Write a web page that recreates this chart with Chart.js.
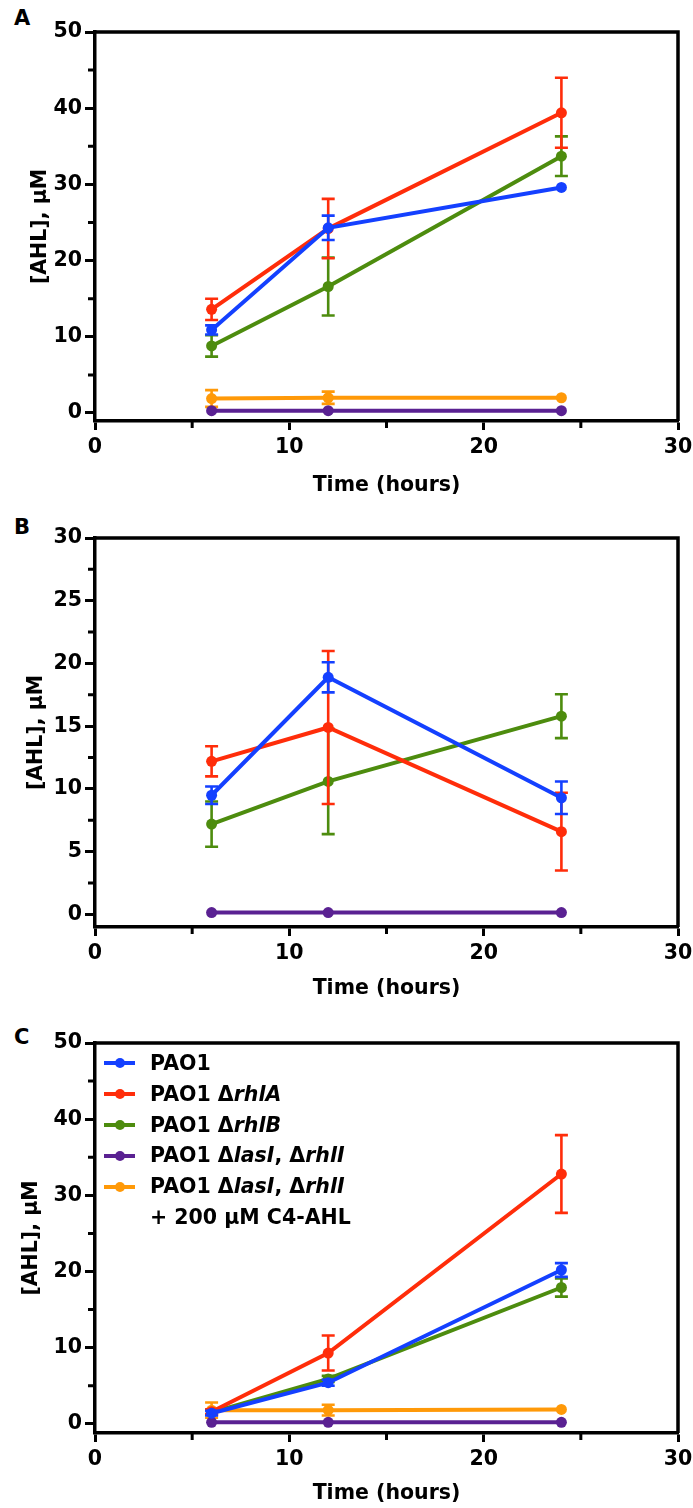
<!DOCTYPE html>
<html>
<head>
<meta charset="utf-8">
<script src="https://cdn.jsdelivr.net/npm/chart.js@4.4.0/dist/chart.umd.min.js"></script>
<style>
  html, body { margin: 0; padding: 0; background: #fff; overflow: hidden; }
  #page { position: relative; width: 693px; height: 1508px; font-family: "DejaVu Sans", sans-serif; font-weight: bold; color: #000; }
  .panel { position: absolute; left: 0; }
  .letter { position: absolute; left: 14px; font-size: 21px; line-height: 22px; }
  #legend { position: absolute; left: 104px; top: 1048px; font-size: 20.5px; line-height: 31px; }
  #legend .row { display: flex; align-items: center; height: 30.8px; white-space: nowrap; }
  #legend .swatch { position: relative; width: 31px; height: 4px; margin-right: 15px; flex: none; }
  #legend .swatch span { position: absolute; left: 10.5px; top: -3px; width: 10px; height: 10px; border-radius: 50%; }
  #legend .indent { padding-left: 46px; }
  #legend i { font-style: italic; }
</style>
</head>
<body>
<div id="page">
  <div class="letter" style="top:7px">A</div>
  <div class="letter" style="top:516px">B</div>
  <div class="letter" style="top:1026px">C</div>
  <canvas id="chartA" class="panel" style="top:0px" width="693" height="500"></canvas>
  <canvas id="chartB" class="panel" style="top:500px" width="693" height="505"></canvas>
  <canvas id="chartC" class="panel" style="top:1000px" width="693" height="508"></canvas>
  <div id="legend"></div>
</div>
<script>
// sampling times (hours)
const hours = [6, 12, 24];

const seriesColors = ['#1440ff', '#ff2d0a', '#4d8c0e', '#5a2192', '#ff9908'];
const legendLabels = [
  'PAO1',
  'PAO1 Δ<i>rhlA</i>',
  'PAO1 Δ<i>rhlB</i>',
  'PAO1 Δ<i>lasI</i>, Δ<i>rhlI</i>',
  'PAO1 Δ<i>lasI</i>, Δ<i>rhlI</i>'
];
const seriesNames = ['PAO1', 'PAO1 ΔrhlA', 'PAO1 ΔrhlB', 'PAO1 ΔlasI, ΔrhlI', 'PAO1 ΔlasI, ΔrhlI + 200 µM C4-AHL'];

// panel A
const aPAO1 = [10.9, 24.3, 29.6];
const aPAO1Err = [0.6, 1.6, 0];
const aRhlA = [13.6, 24.2, 39.4];
const aRhlAErr = [1.4, 3.9, 4.6];
const aRhlB = [8.8, 16.6, 33.7];
const aRhlBErr = [1.4, 3.8, 2.6];
const aLasRhl = [0.3, 0.3, 0.3];
const aLasRhlErr = [0, 0, 0];
const aLasRhlC4 = [1.9, 2.0, 2.0];
const aLasRhlC4Err = [1.1, 0.8, 0];

// panel B
const bPAO1 = [9.5, 18.9, 9.3];
const bPAO1Err = [0.7, 1.2, 1.3];
const bRhlA = [12.2, 14.9, 6.6];
const bRhlAErr = [1.2, 6.1, 3.1];
const bRhlB = [7.2, 10.6, 15.8];
const bRhlBErr = [1.8, 4.2, 1.75];
const bLasRhl = [0.15, 0.15, 0.15];
const bLasRhlErr = [0, 0, 0];

// panel C
const cPAO1 = [1.4, 5.4, 20.2];
const cPAO1Err = [0.3, 0.4, 0.9];
const cRhlA = [1.6, 9.3, 32.8];
const cRhlAErr = [0.3, 2.3, 5.1];
const cRhlB = [1.5, 5.9, 17.9];
const cRhlBErr = [0.3, 0.4, 1.2];
const cLasRhl = [0.2, 0.2, 0.2];
const cLasRhlErr = [0, 0, 0];
const cLasRhlC4 = [1.8, 1.8, 1.9];
const cLasRhlC4Err = [1.0, 0.7, 0];

// axis ticks
const xTicks = [0, 10, 20, 30];
const xMinorTicks = [5, 15, 25];
const yTicks50 = [0, 10, 20, 30, 40, 50];
const yMinor50 = [5, 15, 25, 35, 45];
const yTicks30 = [0, 5, 10, 15, 20, 25, 30];
const yMinor30 = [2.5, 7.5, 12.5, 17.5, 22.5, 27.5];

const FONT = { family: '"DejaVu Sans", sans-serif', size: 20.5, weight: 'bold', lineHeight: 1.2 };

// vertical SEM bars with caps, drawn right after each series
const errorBars = {
  id: 'errorBars',
  afterDatasetDraw(chart, args) {
    const ds = chart.data.datasets[args.index];
    if (!ds.errors) return;
    const yScale = chart.scales.y;
    const ctx = chart.ctx;
    ctx.save();
    ctx.strokeStyle = ds.borderColor;
    ctx.lineWidth = 2.6;
    args.meta.data.forEach((pt, i) => {
      const e = ds.errors[i];
      if (!e) return;
      const v = ds.data[i].y;
      const top = yScale.getPixelForValue(v + e);
      const bot = yScale.getPixelForValue(v - e);
      ctx.beginPath();
      ctx.moveTo(pt.x, top); ctx.lineTo(pt.x, bot);
      ctx.moveTo(pt.x - 6.5, top); ctx.lineTo(pt.x + 6.5, top);
      ctx.moveTo(pt.x - 6.5, bot); ctx.lineTo(pt.x + 6.5, bot);
      ctx.stroke();
    });
    ctx.restore();
  }
};

// closed box on top/right plus short minor ticks
const frame = {
  id: 'frame',
  afterDraw(chart, args, opts) {
    const { ctx, chartArea, scales } = chart;
    ctx.save();
    ctx.strokeStyle = '#000';
    ctx.lineWidth = 3.5;
    ctx.beginPath();
    ctx.moveTo(chartArea.left, chartArea.top);
    ctx.lineTo(chartArea.right, chartArea.top);
    ctx.lineTo(chartArea.right, scales.x.top);
    ctx.stroke();
    ctx.lineWidth = 3;
    ctx.beginPath();
    opts.xMinor.forEach(v => {
      const px = scales.x.getPixelForValue(v);
      ctx.moveTo(px, scales.x.top); ctx.lineTo(px, scales.x.top + 7);
    });
    opts.yMinor.forEach(v => {
      const py = scales.y.getPixelForValue(v);
      ctx.moveTo(scales.y.right, py); ctx.lineTo(scales.y.right - 7, py);
    });
    ctx.stroke();
    ctx.restore();
  }
};

function toPoints(values) {
  return values.map((v, i) => ({ x: hours[i], y: v }));
}

function makePanel(id, cfg) {
  const datasets = cfg.series.map(s => ({
    label: seriesNames[s.idx],
    data: toPoints(s.values),
    errors: s.errors,
    borderColor: seriesColors[s.idx],
    backgroundColor: seriesColors[s.idx],
    borderWidth: 4,
    pointRadius: 5.5,
    pointBorderWidth: 0,
    pointHoverRadius: 5.5,
    tension: 0
  }));
  return new Chart(document.getElementById(id), {
    type: 'line',
    data: { datasets },
    plugins: [errorBars, frame],
    options: {
      responsive: false,
      animation: false,
      devicePixelRatio: 1,
      layout: { padding: { top: cfg.top, right: 15, left: 0, bottom: 0 } },
      plugins: {
        legend: { display: false },
        tooltip: { enabled: false },
        frame: { xMinor: xMinorTicks, yMinor: cfg.yMinor }
      },
      scales: {
        x: {
          type: 'linear',
          min: 0, max: 30,
          afterBuildTicks: s => { s.ticks = xTicks.map(v => ({ value: v })); },
          afterFit: s => { s.height = cfg.xHeight; s.paddingLeft = 0; s.paddingRight = 0; },
          border: { color: '#000', width: 3.5 },
          grid: { drawOnChartArea: false, drawTicks: true, tickLength: 9, tickWidth: 3, tickColor: '#000' },
          ticks: { color: '#000', font: FONT, padding: 5, maxRotation: 0 },
          title: { display: true, text: 'Time (hours)', color: '#000', font: FONT, padding: { top: 0, bottom: cfg.xTitlePad } }
        },
        y: {
          type: 'linear',
          min: cfg.yMin, max: cfg.yMax,
          afterBuildTicks: s => { s.ticks = cfg.yTicks.map(v => ({ value: v })); },
          afterFit: s => { s.width = 95; s.paddingTop = 0; s.paddingBottom = 0; },
          border: { color: '#000', width: 3.5 },
          grid: { drawOnChartArea: false, drawTicks: true, tickLength: 10, tickWidth: 3, tickColor: '#000' },
          ticks: { color: '#000', font: FONT, padding: 3 },
          title: { display: true, text: '[AHL], µM', color: '#000', font: FONT, padding: { top: cfg.yTitlePad, bottom: 0 } }
        }
      }
    }
  });
}

makePanel('chartA', {
  top: 32, xHeight: 79, xTitlePad: 2, yTitlePad: 28,
  yMin: -1.05, yMax: 50, yTicks: yTicks50, yMinor: yMinor50,
  series: [
    { idx: 0, values: aPAO1, errors: aPAO1Err },
    { idx: 1, values: aRhlA, errors: aRhlAErr },
    { idx: 2, values: aRhlB, errors: aRhlBErr },
    { idx: 3, values: aLasRhl, errors: aLasRhlErr },
    { idx: 4, values: aLasRhlC4, errors: aLasRhlC4Err }
  ]
});

makePanel('chartB', {
  top: 38, xHeight: 78, xTitlePad: 4, yTitlePad: 24,
  yMin: -1.0, yMax: 30, yTicks: yTicks30, yMinor: yMinor30,
  series: [
    { idx: 0, values: bPAO1, errors: bPAO1Err },
    { idx: 1, values: bRhlA, errors: bRhlAErr },
    { idx: 2, values: bRhlB, errors: bRhlBErr },
    { idx: 3, values: bLasRhl, errors: bLasRhlErr }
  ]
});

makePanel('chartC', {
  top: 43, xHeight: 75, xTitlePad: 2, yTitlePad: 19,
  yMin: -1.2, yMax: 50, yTicks: yTicks50, yMinor: yMinor50,
  series: [
    { idx: 0, values: cPAO1, errors: cPAO1Err },
    { idx: 1, values: cRhlA, errors: cRhlAErr },
    { idx: 2, values: cRhlB, errors: cRhlBErr },
    { idx: 3, values: cLasRhl, errors: cLasRhlErr },
    { idx: 4, values: cLasRhlC4, errors: cLasRhlC4Err }
  ]
});

// legend for panel C (gene names in italics)
const legendEl = document.getElementById('legend');
legendLabels.forEach((html, i) => {
  const row = document.createElement('div');
  row.className = 'row';
  row.innerHTML = `<div class="swatch" style="background:${seriesColors[i]}"><span style="background:${seriesColors[i]}"></span></div><div>${html}</div>`;
  legendEl.appendChild(row);
});
const extra = document.createElement('div');
extra.className = 'row indent';
extra.textContent = '+ 200 µM C4-AHL';
legendEl.appendChild(extra);
</script>
</body>
</html>
